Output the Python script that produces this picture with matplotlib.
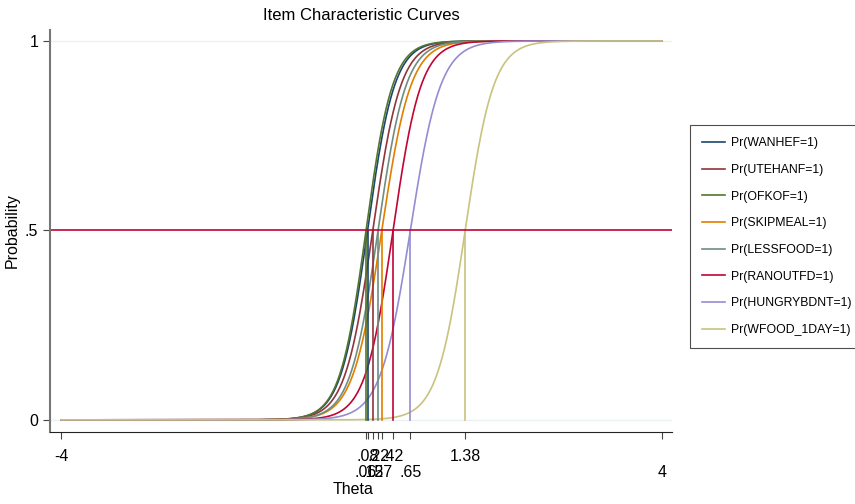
import matplotlib.pyplot as plt
import numpy as np

plt.rcParams["font.family"] = ["Liberation Sans", "DejaVu Sans"]

# Item labels, difficulties (theta at p=.5) and discriminations
items = ["WANHEF", "UTEHANF", "OFKOF", "SKIPMEAL", "LESSFOOD",
         "RANOUTFD", "HUNGRYBDNT", "WFOOD_1DAY"]
difficulty = [0.08, 0.15, 0.06, 0.27, 0.22, 0.42, 0.65, 1.38]
discrimination = [5.6, 5.4, 5.7, 5.2, 5.4, 5.4, 5.0, 5.3]
colors = ["#1a476f", "#90353b", "#55752f", "#e37e00", "#6e8e84",
          "#c10534", "#938dd2", "#cac27e"]

# x tick labels as shown (Stata style)
xtick_vals = [-4, 0.06, 0.08, 0.15, 0.22, 0.27, 0.42, 0.65, 1.38, 4]
xtick_text = ["-4", ".06", ".08", ".15", ".22", ".27", ".42", ".65", "1.38", "4"]

fig = plt.figure(figsize=(8.55, 5.04), dpi=100)
ax = fig.add_axes([0.0585, 0.1429, 0.7275, 0.7976])

theta = np.linspace(-4, 4, 801)

# light gridlines at 0 and 1
for yv in [0, 1]:
    ax.axhline(yv, color="#eaf2f3", lw=1, zorder=0)

for name, b, a, c in zip(items, difficulty, discrimination, colors):
    p = 1 / (1 + np.exp(-a * (theta - b)))
    ax.plot(theta, p, color=c, lw=1.2, label="Pr(%s=1)" % name)

# droplines at p = .5
for b, c in zip(difficulty, colors):
    ax.plot([b, b], [0, 0.5], color=c, lw=1.2)

ax.axhline(0.5, color="#c10534", lw=1.2)

ax.set_xlim(-4.146, 4.133)
ax.set_ylim(-0.032, 1.029)

ax.set_yticks([0, 0.5, 1])
ax.set_yticklabels(["0", ".5", "1"], fontsize=11.5)
ax.set_xticks(xtick_vals)
ax.set_xticklabels([])
# alternate the tick labels between two rows
for i, (v, t) in enumerate(zip(xtick_vals, xtick_text)):
    off = -0.06 if i % 2 == 0 else -0.102
    ax.text(v, off, t, transform=ax.get_xaxis_transform(), ha="center",
            va="center", fontsize=11.5)

ax.tick_params(axis="both", direction="out", length=5, color="#444444")
ax.spines["top"].set_visible(False)
ax.spines["right"].set_visible(False)
ax.spines["left"].set_color("#777777")
ax.spines["left"].set_linewidth(1.5)
ax.spines["bottom"].set_color("#222222")

ax.set_ylabel("Probability", fontsize=11.5, labelpad=4)
fig.text(0.413, 0.028, "Theta", ha="center", va="center", fontsize=11.5)
ax.set_title("Item Characteristic Curves", fontsize=12, pad=7)

leg = fig.legend(loc="upper left", bbox_to_anchor=(0.807, 0.752),
                 fontsize=8.8, frameon=True, fancybox=False,
                 edgecolor="#222222", labelspacing=1.2, handlelength=1.9,
                 borderpad=1.0, handletextpad=0.45, borderaxespad=0)
leg.get_frame().set_linewidth(0.8)

fig.savefig("out.png", dpi=100)
